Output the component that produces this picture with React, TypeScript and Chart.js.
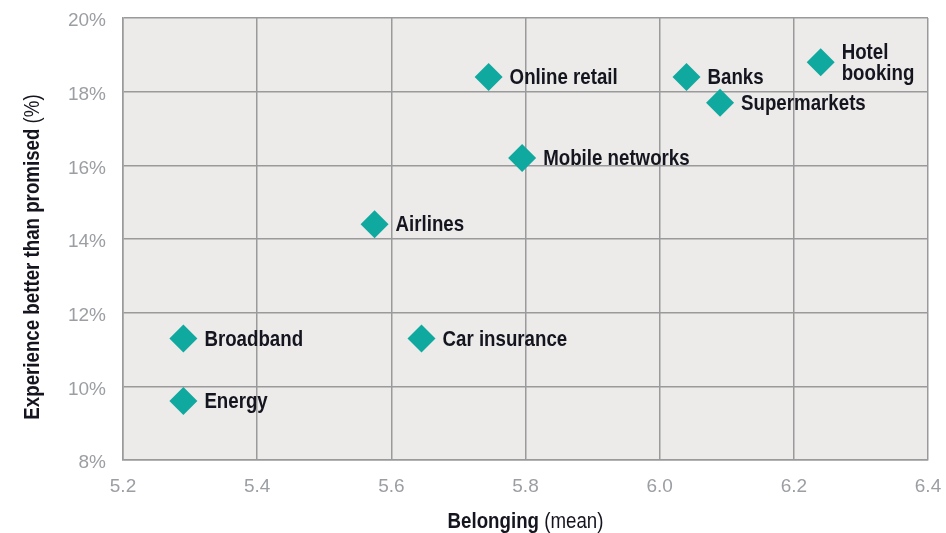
import React, { useEffect, useRef } from "react";
import { Chart, registerables } from "chart.js";

Chart.register(...registerables);

const categories = [
  "Online retail",
  "Banks",
  "Supermarkets",
  "Hotel booking",
  "Mobile networks",
  "Airlines",
  "Broadband",
  "Car insurance",
  "Energy",
];
const labelLines = [
  ["Online retail"],
  ["Banks"],
  ["Supermarkets"],
  ["Hotel", "booking"],
  ["Mobile networks"],
  ["Airlines"],
  ["Broadband"],
  ["Car insurance"],
  ["Energy"],
];
const belonging = [5.745, 6.04, 6.09, 6.24, 5.795, 5.575, 5.29, 5.645, 5.29];
const betterThanPromised = [18.4, 18.4, 17.7, 18.8, 16.2, 14.4, 11.3, 11.3, 9.6];
const xTicks = [5.2, 5.4, 5.6, 5.8, 6.0, 6.2, 6.4];
const yTicks = [8, 10, 12, 14, 16, 18, 20];

const SANS = '"Liberation Sans", Arial, sans-serif';
const SQUEEZE = 0.85;

function narrowWidth(ctx: any, text: string, font: string) {
  ctx.font = font;
  return ctx.measureText(text).width * SQUEEZE;
}
function drawNarrow(ctx: any, text: string, x: number, y: number, font: string) {
  ctx.save();
  ctx.font = font;
  ctx.translate(x, y);
  ctx.scale(SQUEEZE, 1);
  ctx.fillText(text, 0, 0);
  ctx.restore();
}

const bgPlugin = {
  id: "plotBg",
  beforeDraw(chart: any) {
    const { ctx, chartArea } = chart;
    ctx.save();
    ctx.fillStyle = "#ECEBEA";
    ctx.fillRect(chartArea.left, chartArea.top, chartArea.right - chartArea.left, chartArea.bottom - chartArea.top);
    ctx.restore();
  },
};

const labelPlugin = {
  id: "pointLabels",
  afterDatasetsDraw(chart: any) {
    const { ctx } = chart;
    const meta = chart.getDatasetMeta(0);
    ctx.save();
    ctx.fillStyle = "#15151f";
    ctx.textBaseline = "middle";
    ctx.textAlign = "left";
    const font = `bold 22px ${SANS}`;
    meta.data.forEach((pt: any, i: number) => {
      const lines = labelLines[i];
      const lh = 21;
      const startY = pt.y + 1 - ((lines.length - 1) * lh) / 2;
      lines.forEach((ln, j) => {
        drawNarrow(ctx, ln, pt.x + 21, startY + j * lh, font);
      });
    });
    ctx.restore();
  },
};

const titlePlugin = {
  id: "axisTitles",
  afterDraw(chart: any) {
    const { ctx, chartArea } = chart;
    ctx.save();
    ctx.fillStyle = "#15151f";
    ctx.textBaseline = "middle";
    ctx.textAlign = "left";
    const fb = `bold 22px ${SANS}`;
    const fn = `22px ${SANS}`;
    // X title
    const boldX = "Belonging";
    const normX = " (mean)";
    const wb = narrowWidth(ctx, boldX, fb);
    const wn = narrowWidth(ctx, normX, fn);
    const cx = (chartArea.left + chartArea.right) / 2;
    const xs = cx - (wb + wn) / 2;
    drawNarrow(ctx, boldX, xs, 522, fb);
    drawNarrow(ctx, normX, xs + wb, 522, fn);
    // Y title
    const boldY = "Experience better than promised";
    const normY = " (%)";
    const wb2 = narrowWidth(ctx, boldY, fb);
    const wn2 = narrowWidth(ctx, normY, fn);
    ctx.translate(33, 257);
    ctx.rotate(-Math.PI / 2);
    const ys = -(wb2 + wn2) / 2;
    drawNarrow(ctx, boldY, ys, 0, fb);
    drawNarrow(ctx, normY, ys + wb2, 0, fn);
    ctx.restore();
  },
};

export default function App() {
  const ref = useRef<HTMLCanvasElement | null>(null);
  useEffect(() => {
    if (!ref.current) return;
    const chart = new Chart(ref.current, {
      type: "scatter",
      data: {
        labels: categories,
        datasets: [
          {
            label: "Sectors",
            data: belonging.map((b, i) => ({ x: b, y: betterThanPromised[i] })),
            pointStyle: "rectRot",
            pointRadius: 14,
            pointHoverRadius: 14,
            backgroundColor: "#10A99F",
            borderColor: "#10A99F",
            borderWidth: 0,
          },
        ],
      },
      options: {
        animation: false,
        responsive: false,
        devicePixelRatio: 1,
        layout: { autoPadding: false, padding: { top: 18, right: 18, left: 0, bottom: 0 } },
        plugins: {
          legend: { display: false },
          tooltip: { enabled: false },
        },
        scales: {
          x: {
            type: "linear",
            min: 5.2,
            max: 6.4,
            afterBuildTicks(scale: any) {
              scale.ticks = xTicks.map((v) => ({ value: v }));
            },
            afterFit(scale: any) {
              scale.height = 73;
              scale.paddingLeft = 0;
              scale.paddingRight = 0;
            },
            ticks: {
              color: "#9b9ea3",
              font: { family: SANS, size: 19 },
              padding: 15,
              callback: (v: any) => Number(v).toFixed(1),
            },
            grid: { color: "#9a9a9a", lineWidth: 1.5, drawTicks: false },
            border: { color: "#9a9a9a", width: 1.5 },
          },
          y: {
            type: "linear",
            min: 8,
            max: 20,
            afterBuildTicks(scale: any) {
              scale.ticks = yTicks.map((v) => ({ value: v }));
            },
            afterFit(scale: any) {
              scale.width = 123;
              scale.paddingTop = 0;
              scale.paddingBottom = 0;
            },
            ticks: {
              color: "#9b9ea3",
              font: { family: SANS, size: 19 },
              padding: 17,
              labelOffset: 3,
              callback: (v: any) => `${v}%`,
            },
            grid: { color: "#9a9a9a", lineWidth: 1.5, drawTicks: false },
            border: { color: "#9a9a9a", width: 1.5 },
          },
        },
      },
      plugins: [bgPlugin, labelPlugin, titlePlugin],
    });
    return () => chart.destroy();
  }, []);
  return (
    <div style={{ position: "absolute", left: 0, top: 0, width: 946, height: 533, background: "#fff" }}>
      <canvas ref={ref} width={946} height={533} style={{ width: 946, height: 533 }} />
    </div>
  );
}
